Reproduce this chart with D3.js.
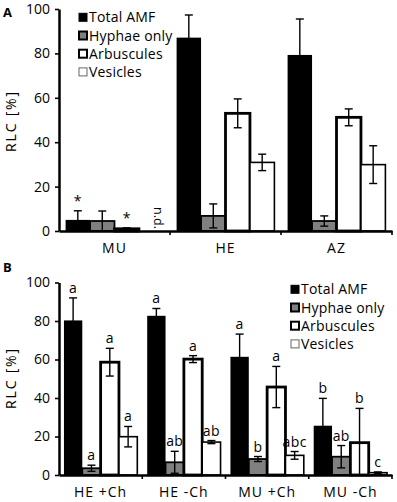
<!DOCTYPE html>
<html>
<head>
<meta charset="utf-8">
<script src="https://cdnjs.cloudflare.com/ajax/libs/d3/7.8.5/d3.min.js"></script>
<style>
    body { margin: 0; background: #fff; }
    text { font-family: "Open Sans", sans-serif; fill: #000; }
</style>
</head>
<body>
<div id="chart"></div>
<script>
// series shared by both panels
const seriesNames = ["Total AMF", "Hyphae only", "Arbuscules", "Vesicles"];
const yTicks = [0, 20, 40, 60, 80, 100];

// panel A: field sites
const sitesA = ["MU", "HE", "AZ"];
const meanA = [
    [5.0, 4.5, 1.0, 0],
    [87.1, 6.8, 53.0, 30.9],
    [79.3, 4.5, 51.2, 29.9]
];
const errA = [
    [4.1, 4.5, 0.4, 0],
    [10.2, 5.4, 6.5, 3.7],
    [16.2, 2.3, 3.8, 8.5]
];
const marksA = [
    ["*", "", "*", "n.d."],
    ["", "", "", ""],
    ["", "", "", ""]
];

// panel B: soil +/- charcoal
const soilsB = ["HE +Ch", "HE -Ch", "MU +Ch", "MU -Ch"];
const meanB = [
    [80.3, 3.5, 58.6, 19.9],
    [82.7, 6.6, 60.2, 17.1],
    [61.4, 8.3, 45.7, 10.2],
    [25.6, 9.5, 16.8, 1.2]
];
const errB = [
    [11.7, 1.6, 7.2, 5.3],
    [3.8, 5.7, 1.8, 0.8],
    [11.8, 1.3, 10.7, 2.0],
    [14.2, 5.8, 17.8, 0.4]
];
const lettersB = [
    ["a", "a", "a", "a"],
    ["a", "ab", "a", "ab"],
    ["a", "b", "a", "abc"],
    ["b", "ab", "b", "c"]
];

const barStyle = {
    "Total AMF":   {fill: "#000", stroke: "#000", width: 0},
    "Hyphae only": {fill: "#808080", stroke: "#000", width: 1.8},
    "Arbuscules":  {fill: "#fff", stroke: "#000", width: 2.8},
    "Vesicles":    {fill: "#fff", stroke: "#000", width: 1.6}
};
const legendBox = {
    "Total AMF":   {fill: "#000", stroke: "#000", width: 1},
    "Hyphae only": {fill: "#808080", stroke: "#000", width: 2},
    "Arbuscules":  {fill: "#fff", stroke: "#000", width: 2},
    "Vesicles":    {fill: "#fff", stroke: "#666", width: 1}
};

class RlcPanel {
    constructor(svg, cfg) {
        this.svg = svg;
        this.cfg = cfg;
        this.initVis();
    }

    initVis() {
        let vis = this;
        let cfg = vis.cfg;

        vis.g = vis.svg.append("g");

        // scales
        vis.y = d3.scaleLinear().domain([0, 100]).range([cfg.yBottom, cfg.yTop]);
        vis.x0 = d3.scaleBand().domain(cfg.groups).range([cfg.xLeft, cfg.xRight]);
        vis.x1 = d3.scaleBand().domain(seriesNames)
            .range([0, vis.x0.bandwidth()])
            .paddingInner(0)
            .paddingOuter(0.27);

        // flatten rows
        vis.rows = [];
        cfg.groups.forEach((grp, i) => {
            seriesNames.forEach((s, j) => {
                vis.rows.push({group: grp, series: s, value: cfg.mean[i][j], err: cfg.err[i][j], mark: cfg.marks[i][j]});
            });
        });

        // bars
        vis.g.selectAll(".bar")
            .data(vis.rows.filter(d => d.value > 0))
            .enter()
            .append("rect")
            .attr("class", "bar")
            .attr("x", d => vis.x0(d.group) + vis.x1(d.series))
            .attr("width", vis.x1.bandwidth())
            .attr("y", d => vis.y(d.value))
            .attr("height", d => vis.y(0) - vis.y(d.value))
            .attr("fill", d => barStyle[d.series].fill)
            .attr("stroke", d => barStyle[d.series].stroke)
            .attr("stroke-width", d => barStyle[d.series].width);

        // error bars
        let errRows = vis.rows.filter(d => d.err > 0);
        let cx = d => vis.x0(d.group) + vis.x1(d.series) + vis.x1.bandwidth() / 2;
        vis.g.selectAll(".err-line")
            .data(errRows)
            .enter()
            .append("line")
            .attr("class", "err-line")
            .attr("x1", cx).attr("x2", cx)
            .attr("y1", d => vis.y(Math.max(0, d.value - d.err)))
            .attr("y2", d => vis.y(d.value + d.err))
            .attr("stroke", "#000")
            .attr("stroke-width", 1.4);
        vis.g.selectAll(".err-cap")
            .data(errRows)
            .enter()
            .append("line")
            .attr("class", "err-cap")
            .attr("x1", d => cx(d) - 4).attr("x2", d => cx(d) + 4)
            .attr("y1", d => vis.y(d.value + d.err))
            .attr("y2", d => vis.y(d.value + d.err))
            .attr("stroke", "#000")
            .attr("stroke-width", 1.4);
        vis.g.selectAll(".err-cap-low")
            .data(errRows.filter(d => d.value - d.err > 0))
            .enter()
            .append("line")
            .attr("class", "err-cap-low")
            .attr("x1", d => cx(d) - 4).attr("x2", d => cx(d) + 4)
            .attr("y1", d => vis.y(d.value - d.err))
            .attr("y2", d => vis.y(d.value - d.err))
            .attr("stroke", "#000")
            .attr("stroke-width", 1.4);

        // significance marks
        vis.g.selectAll(".mark")
            .data(vis.rows.filter(d => d.mark && d.mark !== "n.d."))
            .enter()
            .append("text")
            .attr("class", "mark")
            .attr("x", cx)
            .attr("y", d => vis.y(d.value + d.err) - 5)
            .attr("text-anchor", "middle")
            .attr("font-size", "14px")
            .attr("letter-spacing", "0.4px")
            .text(d => d.mark);

        vis.g.selectAll(".nd")
            .data(vis.rows.filter(d => d.mark === "n.d."))
            .enter()
            .append("text")
            .attr("class", "nd")
            .attr("transform", d => `translate(${cx(d) + 3},${vis.y(0) - 24}) rotate(90)`)
            .attr("font-size", "12.5px")
            .text(d => d.mark);

        // y axis
        vis.yAxis = vis.g.append("g")
            .attr("transform", `translate(${cfg.xLeft},0)`)
            .call(d3.axisLeft(vis.y).tickValues(yTicks).tickSize(4).tickSizeOuter(0).tickPadding(5));
        vis.yAxis.select(".domain").attr("stroke-width", 2.5);
        vis.yAxis.selectAll(".tick line").attr("stroke-width", 1.6);
        vis.yAxis.selectAll(".tick text").attr("font-size", "14px").attr("font-family", "Open Sans, sans-serif");

        // x axis
        vis.xAxis = vis.g.append("g")
            .attr("transform", `translate(0,${cfg.yBottom})`)
            .call(d3.axisBottom(vis.x0).tickSize(0).tickSizeOuter(0).tickPadding(12.5));
        vis.xAxis.select(".domain").attr("stroke-width", 2.5);
        vis.xAxis.selectAll(".tick text").attr("font-size", "14px").attr("font-family", "Open Sans, sans-serif")
            .attr("letter-spacing", "1px");
        vis.xAxis.selectAll(".group-tick")
            .data(cfg.groups)
            .enter()
            .append("line")
            .attr("class", "group-tick")
            .attr("x1", d => vis.x0(d) + vis.x0.bandwidth())
            .attr("x2", d => vis.x0(d) + vis.x0.bandwidth())
            .attr("y1", 0)
            .attr("y2", 4)
            .attr("stroke", "#000")
            .attr("stroke-width", 1.6);

        // axis title
        vis.g.append("text")
            .attr("transform", `translate(16,${cfg.titleY}) rotate(-90)`)
            .attr("text-anchor", "middle")
            .attr("font-size", "14px")
            .attr("letter-spacing", "1.8px")
            .text("RLC [%]");

        // panel letter
        vis.g.append("text")
            .attr("x", 3)
            .attr("y", cfg.letterY)
            .attr("font-size", "13px")
            .attr("font-weight", "bold")
            .attr("font-family", "Liberation Sans, Arial, sans-serif")
            .text(cfg.letter);

        // legend
        vis.legend = vis.g.append("g")
            .attr("transform", `translate(${cfg.legendX},${cfg.legendY})`);
        let items = vis.legend.selectAll(".legend-item")
            .data(seriesNames)
            .enter()
            .append("g")
            .attr("class", "legend-item")
            .attr("transform", (d, i) => `translate(0,${i * 18.2})`);
        items.append("rect")
            .attr("x", 0).attr("y", -4)
            .attr("width", 8).attr("height", 8)
            .attr("fill", d => legendBox[d].fill)
            .attr("stroke", d => legendBox[d].stroke)
            .attr("stroke-width", d => legendBox[d].width);
        items.append("text")
            .attr("x", 10)
            .attr("dy", "0.36em")
            .attr("font-size", "14px")
            .attr("letter-spacing", "0.2px")
            .text(d => d);
    }
}

const svg = d3.select("#chart").append("svg")
    .attr("width", 397)
    .attr("height", 502);

new RlcPanel(svg, {
    groups: sitesA, mean: meanA, err: errA, marks: marksA,
    xLeft: 59, xRight: 392, yBottom: 231, yTop: 9,
    titleY: 121, letter: "A", letterY: 17,
    legendX: 79, legendY: 17.3
});

new RlcPanel(svg, {
    groups: soilsB, mean: meanB, err: errB, marks: lettersB,
    xLeft: 59, xRight: 392, yBottom: 475, yTop: 282.5,
    titleY: 378, letter: "B", letterY: 272,
    legendX: 291, legendY: 289.3
});
</script>
</body>
</html>
